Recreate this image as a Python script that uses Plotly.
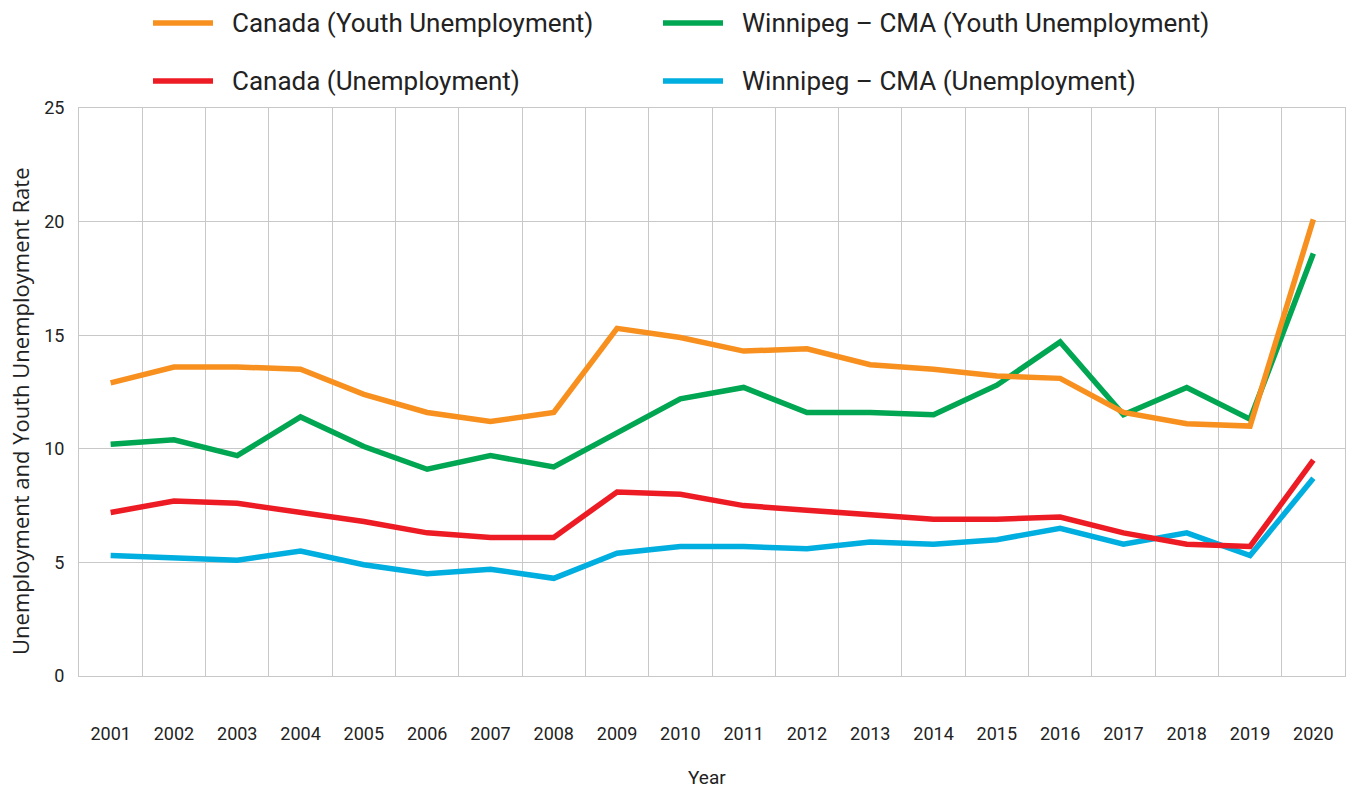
import plotly.graph_objects as go

# Annual unemployment rates (%), 2001-2020
years = list(range(2001, 2021))
year_labels = [str(y) for y in years]

canada_youth = [12.9, 13.6, 13.6, 13.5, 12.4, 11.6, 11.2, 11.6, 15.3, 14.9,
                14.3, 14.4, 13.7, 13.5, 13.2, 13.1, 11.6, 11.1, 11.0, 20.1]
winnipeg_youth = [10.2, 10.4, 9.7, 11.4, 10.1, 9.1, 9.7, 9.2, 10.7, 12.2,
                  12.7, 11.6, 11.6, 11.5, 12.8, 14.7, 11.5, 12.7, 11.3, 18.6]
canada_total = [7.2, 7.7, 7.6, 7.2, 6.8, 6.3, 6.1, 6.1, 8.1, 8.0,
                7.5, 7.3, 7.1, 6.9, 6.9, 7.0, 6.3, 5.8, 5.7, 9.5]
winnipeg_total = [5.3, 5.2, 5.1, 5.5, 4.9, 4.5, 4.7, 4.3, 5.4, 5.7,
                  5.7, 5.6, 5.9, 5.8, 6.0, 6.5, 5.8, 6.3, 5.3, 8.7]

series_names = ["Canada (Youth Unemployment)", "Winnipeg \u2013 CMA (Youth Unemployment)",
                "Canada (Unemployment)", "Winnipeg \u2013 CMA (Unemployment)"]
series_values = [canada_youth, winnipeg_youth, canada_total, winnipeg_total]
series_colors = ["#F7901E", "#00A651", "#ED1C24", "#00AEDF"]

W, H = 1347, 789
L, R, T, B = 79, 2, 108, 113
plot_w, plot_h = W - L - R, H - T - B
TEXT = "#222222"


def px_x(px):
    return (px - L) / plot_w


def px_y(py):
    return (H - B - py) / plot_h


fig = go.Figure()
# draw order: unemployment lines under youth lines
for idx in [3, 2, 1, 0]:
    fig.add_trace(go.Scatter(
        x=years, y=series_values[idx], mode="lines", name=series_names[idx],
        line=dict(color=series_colors[idx], width=5.5),
        showlegend=False,
    ))

# two-column legend above the plot
legend_rows = [23, 81]
legend_cols = [153, 663]
shapes, annotations = [], []
for i, (name, color) in enumerate(zip(series_names, series_colors)):
    row, col = i // 2, i % 2
    yp = px_y(legend_rows[row])
    x0 = legend_cols[col]
    shapes.append(dict(type="line", xref="paper", yref="paper",
                       x0=px_x(x0), x1=px_x(x0 + 60), y0=yp, y1=yp,
                       line=dict(color=color, width=5.5)))
    annotations.append(dict(xref="paper", yref="paper", x=px_x(x0 + 77), y=yp,
                            text=name, showarrow=False, xanchor="left", yanchor="middle",
                            font=dict(family="Roboto", size=26, color=TEXT)))

# axis titles
annotations.append(dict(xref="paper", yref="paper", x=px_x(707), y=px_y(777),
                        text="Year", showarrow=False, xanchor="center", yanchor="middle",
                        font=dict(family="Roboto", size=19, color=TEXT)))
annotations.append(dict(xref="paper", yref="paper", x=px_x(20), y=px_y(411),
                        text="Unemployment and Youth Unemployment Rate", textangle=-90,
                        showarrow=False, xanchor="center", yanchor="middle",
                        font=dict(family="Open Sans", size=22, color=TEXT)))

fig.update_layout(
    width=W, height=H,
    margin=dict(l=L, r=R, t=T, b=B, autoexpand=False),
    paper_bgcolor="white", plot_bgcolor="white",
    shapes=shapes, annotations=annotations,
    font=dict(family="Roboto", color=TEXT),
)

fig.update_xaxes(
    range=[2000.5, 2020.5], tickvals=years, ticktext=year_labels,
    showgrid=False, ticks="", ticklabelstandoff=41,
    tickfont=dict(family="Roboto", size=18, color=TEXT),
    minor=dict(tick0=2000.5, dtick=1, showgrid=True, gridcolor="#c8c8c8", gridwidth=1),
    showline=True, linecolor="#c8c8c8", linewidth=1, mirror=True,
    zeroline=False, automargin=False,
)
fig.update_yaxes(
    range=[0, 25], tickvals=[0, 5, 10, 15, 20, 25], showgrid=True,
    gridcolor="#c8c8c8", gridwidth=1, ticks="", ticklabelstandoff=10,
    tickfont=dict(family="Roboto", size=18, color=TEXT),
    showline=True, linecolor="#c8c8c8", linewidth=1, mirror=True,
    zeroline=False, automargin=False,
)

fig.write_html("out.html")
